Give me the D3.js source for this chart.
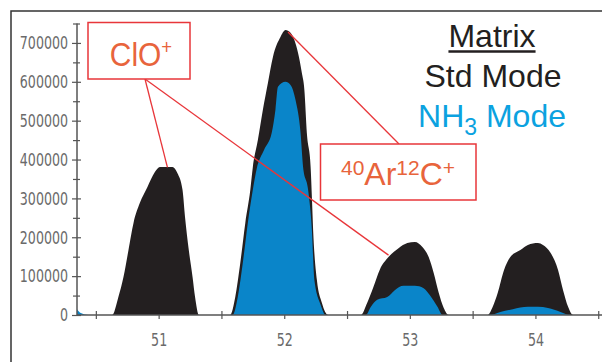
<!DOCTYPE html>
<html lang="en">
<head>
  <meta charset="UTF-8">
  <title>ClO+ / ArC+ interferences, Std vs NH3 mode</title>
  <script src="https://d3js.org/d3.v7.min.js"></script>
  <style>
    body { margin: 0; background: #fff; }
    svg { display: block; }
    .narrow { font-family: "DejaVu Sans Condensed", "DejaVu Sans", sans-serif; }
    .lbl { font-family: "Liberation Sans", Arial, sans-serif; }
  </style>
</head>
<body>
  <div id="viz"></div>

  <script>
    // tick values
    const massTicks = [51, 52, 53, 54];
    const massMinor = [50.5, 51.5, 52.5, 53.5, 54.5];
    const countTicks = [0, 100000, 200000, 300000, 400000, 500000, 600000, 700000];
    const countMinor = [50000, 150000, 250000, 350000, 450000, 550000, 650000, 750000];

    // Std mode trace (black)
    const stdMass = [50.35, 50.63, 50.68, 50.72, 50.76, 50.80, 50.85, 50.91, 50.97, 51.01, 51.11, 51.15, 51.19, 51.21, 51.24, 51.27, 51.29, 51.32,
      51.57, 51.61, 51.65, 51.69, 51.73, 51.75, 51.79, 51.83, 51.87, 51.91, 51.97, 52.01, 52.05, 52.11, 52.14, 52.16, 52.18, 52.21, 52.22, 52.23, 52.26, 52.30, 52.35,
      52.61, 52.66, 52.71, 52.76, 52.83, 52.91, 52.98, 53.04, 53.10, 53.15, 53.19, 53.23, 53.27, 53.31,
      53.62, 53.66, 53.70, 53.75, 53.80, 53.88, 53.94, 54.02, 54.06, 54.12, 54.18, 54.22, 54.26, 54.30, 54.53];
    const stdCounts = [0, 0, 47000, 98000, 167000, 237000, 288000, 329000, 368000, 381000, 381000, 365000, 322000, 252000, 167000, 98000, 46000, 0,
      0, 46000, 134000, 237000, 322000, 381000, 450000, 528000, 597000, 664000, 715000, 733000, 726000, 674000, 623000, 580000, 468000, 381000, 304000, 219000, 90000, 31000, 0,
      0, 31000, 72000, 116000, 149000, 172000, 185000, 188000, 175000, 149000, 108000, 57000, 18000, 0,
      0, 21000, 57000, 116000, 149000, 167000, 180000, 185000, 180000, 160000, 116000, 64000, 21000, 0, 0];

    // NH3 mode trace (blue)
    const nh3Mass = [50.35, 50.38, 50.44,
      51.59, 51.63, 51.67, 51.71, 51.75, 51.78, 51.84, 51.90, 51.93, 51.95, 52.01, 52.05, 52.09, 52.13, 52.15, 52.19, 52.22, 52.24, 52.29, 52.33,
      52.65, 52.69, 52.74, 52.82, 52.88, 52.95, 53.04, 53.11, 53.16, 53.22, 53.26,
      53.63, 53.72, 53.82, 53.94, 54.02, 54.10, 54.20, 54.28, 54.53];
    const nh3Counts = [15000, 5000, 0,
      0, 46000, 134000, 237000, 322000, 375000, 425000, 468000, 528000, 587000, 600000, 592000, 553000, 468000, 381000, 322000, 219000, 90000, 26000, 0,
      0, 21000, 39000, 46000, 64000, 75000, 75000, 69000, 51000, 21000, 0,
      0, 8000, 15000, 21000, 21000, 18000, 8000, 0, 0];

    const W = 602, H = 362;
    const orange = "#e8643c", red = "#e8363a";

    const svg = d3.select("#viz").append("svg").attr("width", W).attr("height", H);

    // outer frame (only left and top edges are inside the picture)
    svg.append("rect")
      .attr("x", 11).attr("y", 11).attr("width", 800).attr("height", 500)
      .attr("fill", "none").attr("stroke", "#333").attr("stroke-width", 1.5);

    const x = d3.scaleLinear().domain([50.35, 54.53]).range([77, 602]);
    const y = d3.scaleLinear().domain([0, 750000]).range([315, 23.5]);

    const area = d3.area()
      .curve(d3.curveMonotoneX)
      .x(d => x(d[0]))
      .y0(y(0))
      .y1(d => y(d[1]));

    svg.append("path")
      .datum(d3.zip(stdMass, stdCounts))
      .attr("fill", "#231f20")
      .attr("d", area);

    svg.append("path")
      .datum(d3.zip(nh3Mass, nh3Counts))
      .attr("fill", "#0a85c9")
      .attr("d", area);

    // Y axis
    const yAxis = svg.append("g")
      .attr("transform", `translate(${x(50.35)},0)`)
      .call(d3.axisLeft(y).tickValues(countTicks).tickSize(5).tickPadding(4).tickFormat(d3.format("d")));
    yAxis.selectAll(".tick line").attr("x1", 4);
    const yMinor = svg.append("g")
      .attr("transform", `translate(${x(50.35)},0)`)
      .call(d3.axisLeft(y).tickValues(countMinor).tickSize(4).tickFormat(""));
    yMinor.selectAll(".tick line").attr("x1", 3);
    yMinor.select(".domain").remove();
    yAxis.select(".domain").attr("d", `M0,${y(0)}V${y(750000)}`);

    // X axis
    const xAxis = svg.append("g")
      .attr("transform", `translate(0,${y(0)})`)
      .call(d3.axisBottom(x).tickValues(massTicks).tickSize(4).tickPadding(14).tickFormat(d3.format("d")));
    const xMinor = svg.append("g")
      .attr("transform", `translate(0,${y(0)})`)
      .call(d3.axisBottom(x).tickValues(massMinor).tickSize(4).tickFormat(""));
    xMinor.selectAll(".tick line").attr("y1", -4);
    xMinor.select(".domain").remove();
    xAxis.select(".domain").attr("d", `M${x(50.35)},0H${x(54.53)}`);

    [yAxis, yMinor, xAxis, xMinor].forEach(g => {
      g.selectAll("line").attr("stroke", "#555").attr("stroke-width", 1.2);
      g.selectAll(".domain").attr("stroke", "#555").attr("stroke-width", 1.5);
      g.selectAll("text")
        .attr("class", "narrow")
        .attr("font-size", 18)
        .attr("transform", "scale(0.78,1)")
        .attr("fill", "#6a6a6a");
    });
    // scaling shifts the y labels' anchor; put it back next to the ticks
    yAxis.selectAll("text").attr("x", -9 / 0.78);

    // annotation pointers
    const clo = { x: 145, y: 79 };
    const arc = { x: 399, y: 144 };
    const pointers = [
      [clo, [51.07, 380000]],
      [clo, [52.83, 154000]],
      [arc, [52.03, 728000]]
    ];
    svg.selectAll("line.pointer")
      .data(pointers)
      .enter()
      .append("line")
      .attr("class", "pointer")
      .attr("x1", d => d[0].x).attr("y1", d => d[0].y)
      .attr("x2", d => x(d[1][0])).attr("y2", d => y(d[1][1]))
      .attr("stroke", red).attr("stroke-width", 1.3);

    // ClO+ box
    svg.append("rect")
      .attr("x", 88).attr("y", 22.5).attr("width", 102).attr("height", 56.5)
      .attr("fill", "#fff").attr("stroke", red).attr("stroke-width", 1.5);
    const cloText = svg.append("text")
      .attr("class", "lbl")
      .attr("transform", "translate(141,66) scale(0.88,1)")
      .attr("text-anchor", "middle")
      .attr("fill", orange)
      .attr("font-size", 34);
    cloText.append("tspan").text("ClO");
    cloText.append("tspan").attr("font-size", 21).attr("dy", -12).text("+");

    // 40Ar12C+ box
    svg.append("rect")
      .attr("x", 320.5).attr("y", 144).attr("width", 155.5).attr("height", 56)
      .attr("fill", "#fff").attr("stroke", red).attr("stroke-width", 1.5);
    const arcText = svg.append("text")
      .attr("class", "lbl")
      .attr("x", 398).attr("y", 185)
      .attr("text-anchor", "middle")
      .attr("fill", orange)
      .attr("font-size", 32);
    arcText.append("tspan").attr("font-size", 21).attr("dy", -10).text("40");
    arcText.append("tspan").attr("dy", 10).text("Ar");
    arcText.append("tspan").attr("font-size", 21).attr("dy", -10).text("12");
    arcText.append("tspan").attr("dy", 10).text("C");
    arcText.append("tspan").attr("font-size", 21).attr("dy", -10).text("+");

    // legend text
    const matrix = svg.append("text")
      .attr("class", "lbl")
      .attr("x", 492).attr("y", 47)
      .attr("text-anchor", "middle")
      .attr("font-size", 32)
      .attr("fill", "#231f20")
      .text("Matrix");
    const mb = matrix.node().getBBox();
    svg.append("line")
      .attr("x1", mb.x).attr("x2", mb.x + mb.width)
      .attr("y1", 51.5).attr("y2", 51.5)
      .attr("stroke", "#231f20").attr("stroke-width", 2.5);

    svg.append("text")
      .attr("class", "lbl")
      .attr("x", 493).attr("y", 87)
      .attr("text-anchor", "middle")
      .attr("font-size", 32)
      .attr("fill", "#231f20")
      .text("Std Mode");

    const nh3 = svg.append("text")
      .attr("class", "lbl")
      .attr("x", 492).attr("y", 127)
      .attr("text-anchor", "middle")
      .attr("font-size", 32)
      .attr("fill", "#0ba2e0");
    nh3.append("tspan").text("NH");
    nh3.append("tspan").attr("font-size", 23).attr("dy", 8).text("3");
    nh3.append("tspan").attr("dy", -8).text(" Mode");
  </script>
</body>
</html>
